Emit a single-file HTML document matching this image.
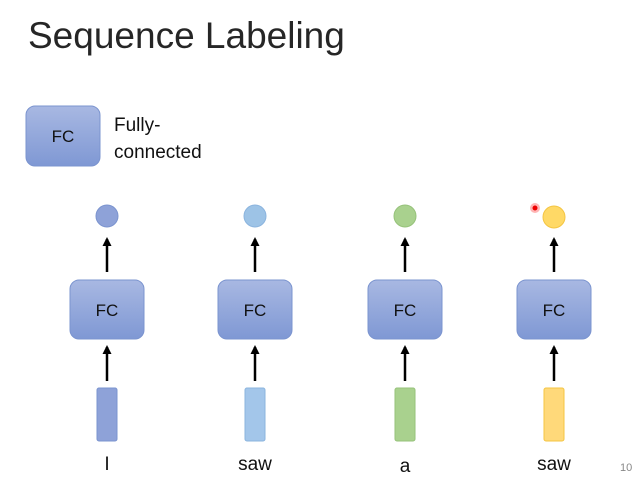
<!DOCTYPE html>
<html><head><style>
body{margin:0;width:636px;height:478px;background:#fff;overflow:hidden;font-family:"Liberation Sans",sans-serif;}
</style></head><body>
<svg width="636" height="478" viewBox="0 0 636 478" xmlns="http://www.w3.org/2000/svg">
<defs>
<linearGradient id="fc" x1="0" y1="0" x2="0" y2="1"><stop offset="0" stop-color="#a8b8e2"/><stop offset="1" stop-color="#7f98d4"/></linearGradient>
<marker id="ah" markerWidth="8" markerHeight="8" refX="4" refY="4" orient="auto" markerUnits="userSpaceOnUse"><path d="M0,8 L4,0 L8,8 Z" fill="#000"/></marker>
</defs>
<text x="28" y="48" font-size="37" fill="#262626">Sequence Labeling</text>
<rect x="26" y="106" width="74" height="60" rx="9" fill="url(#fc)" stroke="#7b94cf"/>
<text x="63" y="142" font-size="17" text-anchor="middle" fill="#111">FC</text>
<text x="114" y="131" font-size="19" fill="#111">Fully-</text>
<text x="114" y="158" font-size="19" fill="#111">connected</text>
<g id="cols">
<g transform="translate(107,0)">
<circle cx="0" cy="216" r="11" fill="#8ea2d8" stroke="#7b94cf"/>
<line x1="0" y1="272" x2="0" y2="239" stroke="#000" stroke-width="2.5"/><path d="M-4.5,246 L0,237 L4.5,246Z"/>
<rect x="-37" y="280" width="74" height="59" rx="9" fill="url(#fc)" stroke="#7b94cf"/>
<text x="0" y="316" font-size="17" text-anchor="middle" fill="#111">FC</text>
<line x1="0" y1="381" x2="0" y2="347" stroke="#000" stroke-width="2.5"/><path d="M-4.5,354 L0,345 L4.5,354Z"/>
<rect x="-10" y="388" width="20" height="53" rx="2" fill="#8ea2d8" stroke="#7b94cf"/>
<text x="0" y="470" font-size="19" text-anchor="middle" fill="#111">I</text>
</g>
<g transform="translate(255,0)">
<circle cx="0" cy="216" r="11" fill="#9dc3e6" stroke="#8bb4de"/>
<line x1="0" y1="272" x2="0" y2="239" stroke="#000" stroke-width="2.5"/><path d="M-4.5,246 L0,237 L4.5,246Z"/>
<rect x="-37" y="280" width="74" height="59" rx="9" fill="url(#fc)" stroke="#7b94cf"/>
<text x="0" y="316" font-size="17" text-anchor="middle" fill="#111">FC</text>
<line x1="0" y1="381" x2="0" y2="347" stroke="#000" stroke-width="2.5"/><path d="M-4.5,354 L0,345 L4.5,354Z"/>
<rect x="-10" y="388" width="20" height="53" rx="2" fill="#a3c6ea" stroke="#8bb4de"/>
<text x="0" y="470" font-size="19" text-anchor="middle" fill="#111">saw</text>
</g>
<g transform="translate(405,0)">
<circle cx="0" cy="216" r="11" fill="#a9d18e" stroke="#96c27a"/>
<line x1="0" y1="272" x2="0" y2="239" stroke="#000" stroke-width="2.5"/><path d="M-4.5,246 L0,237 L4.5,246Z"/>
<rect x="-37" y="280" width="74" height="59" rx="9" fill="url(#fc)" stroke="#7b94cf"/>
<text x="0" y="316" font-size="17" text-anchor="middle" fill="#111">FC</text>
<line x1="0" y1="381" x2="0" y2="347" stroke="#000" stroke-width="2.5"/><path d="M-4.5,354 L0,345 L4.5,354Z"/>
<rect x="-10" y="388" width="20" height="53" rx="2" fill="#a9d18e" stroke="#96c27a"/>
<text x="0" y="472" font-size="19" text-anchor="middle" fill="#111">a</text>
</g>
<g transform="translate(554,0)">
<circle cx="0" cy="217" r="11" fill="#ffd966" stroke="#f4c542"/>
<line x1="0" y1="272" x2="0" y2="239" stroke="#000" stroke-width="2.5"/><path d="M-4.5,246 L0,237 L4.5,246Z"/>
<rect x="-37" y="280" width="74" height="59" rx="9" fill="url(#fc)" stroke="#7b94cf"/>
<text x="0" y="316" font-size="17" text-anchor="middle" fill="#111">FC</text>
<line x1="0" y1="381" x2="0" y2="347" stroke="#000" stroke-width="2.5"/><path d="M-4.5,354 L0,345 L4.5,354Z"/>
<rect x="-10" y="388" width="20" height="53" rx="2" fill="#ffd97a" stroke="#f4c542"/>
<text x="0" y="470" font-size="19" text-anchor="middle" fill="#111">saw</text>
</g>
</g>
<circle cx="535" cy="208" r="5" fill="#ff6b6b" opacity="0.5"/>
<circle cx="535" cy="208" r="2.5" fill="#e00"/>
<text x="620" y="471" font-size="11" fill="#888">10</text>
</svg>
</body></html>
